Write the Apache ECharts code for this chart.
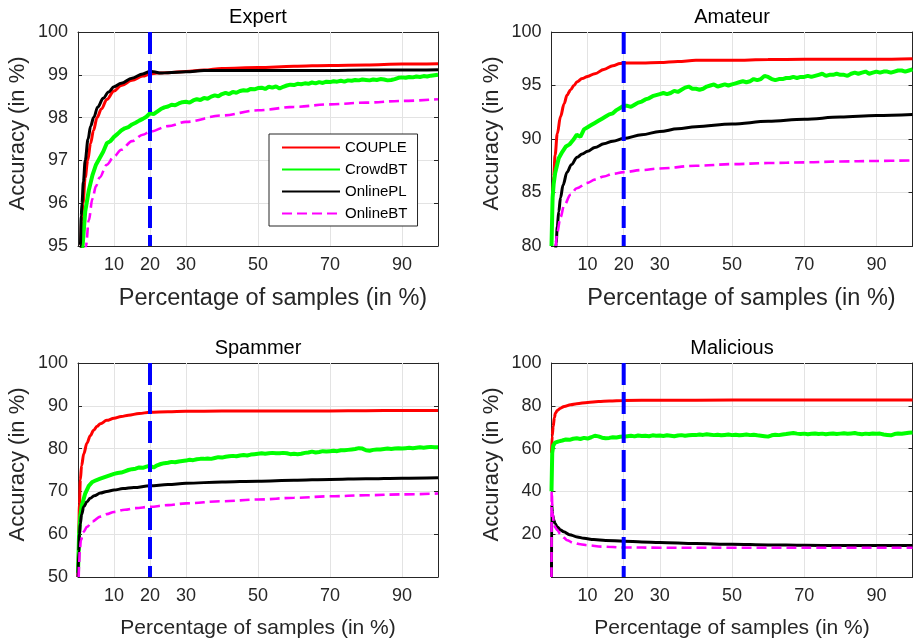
<!DOCTYPE html>
<html>
<head>
<meta charset="utf-8">
<script src="https://cdn.jsdelivr.net/npm/echarts@6/dist/echarts.min.js"></script>
<style>
html,body{margin:0;padding:0;background:#fff;}
#chart{width:915px;height:644px;}
</style>
</head>
<body>
<div id="chart"></div>
<script>
// ---------- data ----------
const panelTitles = ['Expert', 'Amateur', 'Spammer', 'Malicious'];
const seriesNames = ['COUPLE', 'CrowdBT', 'OnlinePL', 'OnlineBT'];
const xTicks = [10, 20, 30, 50, 70, 90];
const yMins = [95, 80, 50, 0];
const yMaxs = [100, 100, 100, 100];
const ySteps = [1, 5, 10, 20];
const cutoffX = 20;

// x positions (in %) for the noisy CrowdBT curves
const xSteps = [1,2,3,4,5,6,7,8,9,10,11,12,13,14,15,16,17,18,19,20,
 21,22,23,24,25,26,27,28,29,30,31,32,33,34,35,36,37,38,39,40,
 41,42,43,44,45,46,47,48,49,50,51,52,53,54,55,56,57,58,59,60,
 61,62,63,64,65,66,67,68,69,70,71,72,73,74,75,76,77,78,79,80,
 81,82,83,84,85,86,87,88,89,90,91,92,93,94,95,96,97,98,99,100];

// ---- Expert ----
const expertCouple = [[0.5,94],[0.8,95],[1.0,95.6],[1.4,96.0],[2.0,96.6],[2.7,97.0],[3.5,97.4],[4.3,97.7],[5.3,98.0],[6.5,98.2],[8,98.42],[10,98.62],[12,98.75],[15,98.87],[18,98.97],[20,99.02],[22,99.04],[25,99.05],[30,99.08],[35,99.11],[40,99.15],[50,99.17],[60,99.2],[70,99.22],[80,99.23],[90,99.25],[100,99.26]];
const expertCrowdHeadX = [];
const expertCrowdHeadY = [];
const expertCrowd = [94.7,95.8,96.3,96.65,96.9,97.05,97.2,97.4,97.45,97.55,97.62,97.7,97.75,97.78,97.84,97.88,97.93,97.97,98.02,98.1,
 98.08,98.14,98.2,98.24,98.26,98.3,98.29,98.33,98.36,98.37,98.35,98.4,98.43,98.41,98.46,98.44,98.49,98.52,98.5,98.55,
 98.58,98.55,98.6,98.58,98.62,98.64,98.63,98.67,98.66,98.69,98.7,98.67,98.72,98.7,98.73,98.68,98.72,98.75,98.77,98.76,
 98.79,98.78,98.8,98.79,98.82,98.8,98.83,98.81,98.84,98.83,98.85,98.84,98.86,98.84,98.87,98.86,98.88,98.87,98.89,98.88,
 98.87,98.89,98.88,98.9,98.89,98.87,98.88,98.9,98.93,98.94,98.93,98.95,98.94,98.96,98.95,98.97,98.96,98.98,98.99,99.0];
const expertOnlinePL = [[0.4,94],[0.65,95],[0.9,95.7],[1.1,96.0],[1.5,96.5],[2.0,97.0],[2.8,97.5],[3.5,97.8],[4.35,98.0],[5.5,98.25],[7,98.45],[8.5,98.6],[10,98.72],[12,98.8],[15,98.92],[18,99.02],[20,99.08],[21,99.07],[23,99.04],[25,99.05],[30,99.07],[35,99.1],[40,99.1],[50,99.1],[60,99.1],[70,99.1],[80,99.11],[90,99.11],[100,99.12]];
const expertOnlineBT = [[1.8,94.5],[2.2,95],[3,95.6],[4,96.1],[5,96.4],[6,96.6],[8,96.9],[10,97.09],[12,97.25],[15,97.45],[18,97.6],[20,97.67],[25,97.8],[30,97.9],[40,98.05],[50,98.17],[60,98.25],[70,98.31],[80,98.35],[90,98.39],[100,98.43]];

// ---- Amateur ----
const amateurCouple = [[0.3,84.8],[0.4,85.2],[0.6,86.5],[1,88.5],[1.6,90.5],[2.5,92.1],[3.5,93.3],[4.3,94.1],[5.3,94.6],[6.2,95.0],[7.1,95.35],[8.5,95.65],[10,95.85],[12,96.1],[14.5,96.5],[17,96.85],[19,97.05],[20,97.1],[25,97.1],[30,97.15],[35,97.25],[40,97.35],[50,97.35],[60,97.42],[70,97.45],[80,97.45],[90,97.45],[100,97.5]];
const amateurCrowdHeadX = [0, 0.3, 0.6];
const amateurCrowdHeadY = [80, 84.5, 85.8];
const amateurCrowd = [86.8,88.2,88.8,89.3,89.5,89.9,90.4,90.2,90.9,91.1,91.3,91.5,91.7,91.9,92.1,92.3,92.4,92.7,92.9,93.1,
 93.1,93.0,93.2,93.4,93.5,93.7,93.8,94.0,94.1,94.2,94.3,94.2,94.3,94.5,94.4,94.6,94.8,94.9,94.7,94.7,
 94.6,94.7,94.9,95.0,95.1,94.9,95.0,95.1,95.0,95.1,95.2,95.3,95.4,95.3,95.4,95.6,95.5,95.6,95.9,95.8,
 95.6,95.5,95.6,95.6,95.7,95.7,95.8,95.7,95.8,95.8,95.9,95.8,95.9,96.0,96.1,95.9,96.0,96.0,96.1,96.0,
 96.0,95.9,96.1,96.2,96.1,96.2,96.3,96.1,96.2,96.3,96.2,96.3,96.3,96.2,96.3,96.4,96.4,96.3,96.4,96.5];
const amateurOnlinePL = [[1.1,79.5],[1.3,80.3],[1.6,81.8],[2,83.2],[2.5,84.5],[3.2,85.7],[4.3,86.9],[5.5,87.6],[7.1,88.3],[8.5,88.6],[10,88.85],[12,89.2],[14.5,89.55],[17,89.8],[20,90.05],[25,90.4],[30,90.7],[35,90.95],[40,91.15],[50,91.4],[60,91.65],[70,91.85],[80,92.05],[90,92.2],[100,92.3]];
const amateurOnlineBT = [[1.2,80],[1.6,81.3],[2.5,82.7],[3.5,83.8],[5.3,84.8],[7,85.4],[10,85.9],[12,86.2],[14.5,86.5],[17,86.75],[20,86.9],[25,87.1],[30,87.25],[40,87.5],[50,87.65],[60,87.75],[70,87.82],[80,87.9],[90,87.95],[100,88.0]];

// ---- Spammer ----
const spammerCouple = [[0,50],[0.2,60],[0.4,67],[0.65,72.7],[1,76],[1.6,78.8],[2.5,81.3],[3.4,83.0],[4.35,84.3],[5.3,85.2],[6.2,85.8],[8,86.6],[10,87.1],[12,87.5],[14,87.8],[17,88.2],[20,88.5],[25,88.6],[30,88.7],[40,88.8],[50,88.8],[60,88.8],[70,88.8],[80,88.85],[90,88.9],[100,88.9]];
const spammerCrowdHeadX = [0, 0.3, 0.6];
const spammerCrowdHeadY = [51, 60, 64];
const spammerCrowd = [66.5,69.5,71.3,72.2,72.6,72.9,73.2,73.5,73.8,74.1,74.3,74.4,74.7,75.0,75.2,75.3,75.6,75.5,75.8,76.0,
 75.6,76.1,76.4,76.6,76.7,76.9,76.8,77.0,77.1,77.2,77.4,77.3,77.5,77.6,77.6,77.7,77.6,77.8,78.0,77.9,
 78.1,78.2,78.3,78.2,78.4,78.5,78.4,78.6,78.7,78.8,78.9,78.8,78.9,79.0,78.9,78.9,79.0,78.9,78.7,78.8,
 78.7,78.8,79.0,79.1,79.3,79.1,79.2,79.4,79.3,79.4,79.5,79.4,79.6,79.6,79.7,79.8,79.9,80.1,80.0,79.6,
 79.5,79.7,79.8,79.8,79.9,80.0,79.9,80.0,80.1,80.0,80.1,80.2,80.1,80.2,80.3,80.2,80.3,80.4,80.3,80.3];
const spammerOnlinePL = [[0,50],[0.2,56],[0.4,60],[0.65,62.5],[1,64.6],[1.6,66.4],[2.5,67.6],[3.4,68.4],[4.5,69.0],[6.2,69.6],[8,70.0],[10,70.3],[12.5,70.65],[15.5,70.9],[20,71.3],[25,71.6],[30,71.9],[40,72.2],[50,72.4],[60,72.6],[70,72.8],[80,72.95],[90,73.1],[100,73.2]];
const spammerOnlineBT = [[0.2,50],[0.3,53],[0.5,56],[0.8,58.6],[1.5,60.5],[2.5,61.7],[4,63.0],[6.2,64.1],[8,64.7],[10,65.2],[13,65.7],[16,66.1],[20,66.4],[25,66.8],[30,67.2],[40,67.7],[50,68.1],[60,68.5],[70,68.85],[80,69.1],[90,69.3],[100,69.5]];

// ---- Malicious ----
const maliciousCouple = [[0,58],[0.2,66],[0.46,70.3],[0.8,74.5],[1.1,76.6],[1.6,77.8],[2.5,78.9],[3.5,79.7],[5.3,80.5],[7,81.0],[10,81.6],[13,82.0],[16,82.3],[20,82.5],[30,82.6],[50,82.7],[70,82.7],[100,82.7]];
const maliciousCrowdHeadX = [0, 0.2, 0.5];
const maliciousCrowdHeadY = [40, 58, 61.5];
const maliciousCrowd = [62.8,63.4,63.8,64.3,64.1,64.6,64.8,64.5,65.0,64.7,65.3,66.0,65.7,65.1,64.8,65.0,65.3,65.2,65.5,65.6,
 65.8,66.0,65.7,66.1,65.9,66.0,65.8,66.2,66.0,66.1,65.9,66.2,66.0,65.8,66.1,66.3,66.0,66.2,66.4,66.3,
 66.6,66.4,66.7,66.5,66.3,66.5,66.2,66.4,66.6,66.3,66.5,66.2,66.4,66.6,66.3,66.5,66.2,66.0,65.8,65.6,
 66.2,66.5,66.3,66.6,66.8,67.1,67.3,67.0,66.8,67.0,66.7,66.9,67.1,66.8,67.0,66.7,66.9,67.1,66.8,67.0,
 67.2,66.9,67.1,67.3,66.9,66.7,67.0,66.8,67.1,66.9,67.0,66.6,66.4,66.2,66.8,67.1,66.9,67.2,67.4,67.5];
const maliciousOnlinePL = [[0,0],[0.05,34],[0.3,29],[0.65,26.6],[1,25],[1.6,23.4],[2.5,22.0],[3.4,21.1],[5,19.8],[7.1,18.75],[9,18.1],[11.7,17.5],[15,17.1],[20,16.7],[25,16.4],[30,16.1],[40,15.6],[50,15.3],[60,15.0],[70,14.8],[80,14.75],[90,14.7],[100,14.7]];
const maliciousOnlineBT = [[0,0],[0.05,40],[0.3,30],[0.65,25],[1,23.2],[1.6,21.9],[2.5,20.0],[3.4,18.4],[4.3,17.2],[6,16.0],[8,15.3],[10,14.8],[14,14.2],[20,13.8],[30,13.7],[50,13.7],[70,13.7],[100,13.7]];

// ---------- build ----------
const FONT = 'Liberation Sans, Arial, Helvetica, sans-serif';
const AX = '#262626';
const GRIDC = '#e3e3e3';
const colors = ['#ff0000', '#00ff00', '#000000', '#ff00ff'];

const panelData = [
  {couple: expertCouple, crowdHX: expertCrowdHeadX, crowdHY: expertCrowdHeadY, crowd: expertCrowd, pl: expertOnlinePL, bt: expertOnlineBT},
  {couple: amateurCouple, crowdHX: amateurCrowdHeadX, crowdHY: amateurCrowdHeadY, crowd: amateurCrowd, pl: amateurOnlinePL, bt: amateurOnlineBT},
  {couple: spammerCouple, crowdHX: spammerCrowdHeadX, crowdHY: spammerCrowdHeadY, crowd: spammerCrowd, pl: spammerOnlinePL, bt: spammerOnlineBT},
  {couple: maliciousCouple, crowdHX: maliciousCrowdHeadX, crowdHY: maliciousCrowdHeadY, crowd: maliciousCrowd, pl: maliciousOnlinePL, bt: maliciousOnlineBT}
];

const gridBoxes = [
  {left: 78, top: 32, width: 360, height: 214},
  {left: 551.5, top: 32, width: 361, height: 214},
  {left: 78, top: 363, width: 360, height: 214},
  {left: 551.5, top: 363, width: 361, height: 214}
];
const xNameFont = [23.5, 23.5, 21, 21];
const xNamePad = [[0,0,0,30],[0,0,0,19],[0,0,0,0],[0,0,0,0]];

const grids = [], xAxes = [], yAxes = [], titles = [], series = [];

gridBoxes.forEach((g, i) => {
  grids.push(Object.assign({show: false, containLabel: false}, g));
  titles.push({
    text: panelTitles[i], left: g.left + g.width / 2, top: g.top - 25, textAlign: 'center', padding: 0,
    textStyle: {fontSize: 20, fontWeight: 'normal', color: '#000', fontFamily: FONT}
  });
});

// bottom x axes (0-3)
gridBoxes.forEach((g, i) => {
  xAxes.push({
    gridIndex: i, type: 'value', min: 0, max: 100, position: 'bottom',
    name: 'Percentage of samples (in %)', nameLocation: 'middle', nameGap: 41,
    nameTextStyle: {fontSize: xNameFont[i], color: AX, fontFamily: FONT, padding: xNamePad[i]},
    axisLine: {show: true, onZero: false, lineStyle: {color: AX, width: 1}},
    axisTick: {show: true, inside: true, length: 4, customValues: xTicks, lineStyle: {color: AX}},
    axisLabel: {show: true, customValues: xTicks, fontSize: 18, color: AX, fontFamily: FONT, margin: 10},
    splitLine: {show: false}
  });
});
// top mirror x axes (4-7)
gridBoxes.forEach((g, i) => {
  xAxes.push({
    gridIndex: i, type: 'value', min: 0, max: 100, position: 'top',
    axisLine: {show: true, onZero: false, lineStyle: {color: AX, width: 1}},
    axisTick: {show: true, inside: true, length: 4, customValues: xTicks, lineStyle: {color: AX}},
    axisLabel: {show: false}, splitLine: {show: false}
  });
});
// left y axes (0-3)
gridBoxes.forEach((g, i) => {
  yAxes.push({
    gridIndex: i, type: 'value', min: yMins[i], max: yMaxs[i], interval: ySteps[i], position: 'left',
    name: 'Accuracy (in %)', nameLocation: 'middle', nameGap: 49,
    nameTextStyle: {fontSize: 22, color: AX, fontFamily: FONT, padding: [0,0,0,11]},
    axisLine: {show: true, onZero: false, lineStyle: {color: AX, width: 1}},
    axisTick: {show: true, inside: true, length: 4, lineStyle: {color: AX}},
    axisLabel: {fontSize: 18, color: AX, fontFamily: FONT, margin: 10,
      formatter: v => (i === 3 && v === 0) ? '' : String(v)},
    splitLine: {show: true, showMinLine: false, showMaxLine: false, lineStyle: {color: GRIDC, width: 1}}
  });
});
// right mirror y axes (4-7)
gridBoxes.forEach((g, i) => {
  yAxes.push({
    gridIndex: i, type: 'value', min: yMins[i], max: yMaxs[i], interval: ySteps[i], position: 'right',
    axisLine: {show: true, onZero: false, lineStyle: {color: AX, width: 1}},
    axisTick: {show: true, inside: true, length: 4, lineStyle: {color: AX}},
    axisLabel: {show: false}, splitLine: {show: false}
  });
});

function lineSeries(name, data, gi, color, width, dash, z) {
  return {
    type: 'line', name: name, data: data, xAxisIndex: gi, yAxisIndex: gi,
    symbol: 'none', showSymbol: false, clip: true, z: z,
    smooth: dash === 'noisy' ? false : 0.35, smoothMonotone: 'x',
    lineStyle: {color: color, width: width, type: (dash && dash !== 'noisy') ? dash : 'solid'},
    itemStyle: {color: color},
    emphasis: {disabled: true}
  };
}

panelData.forEach((p, gi) => {
  // vertical grid lines at the x tick positions
  series.push({
    type: 'line', name: 'xgrid', data: [], xAxisIndex: gi, yAxisIndex: gi, silent: true,
    markLine: {
      z: 1, silent: true, symbol: 'none', label: {show: false},
      lineStyle: {color: GRIDC, width: 1, type: 'solid'},
      emphasis: {disabled: true},
      data: xTicks.map(t => ({xAxis: t}))
    }
  });
  const crowdData = p.crowdHX.map((x, k) => [x, p.crowdHY[k]])
    .concat(xSteps.map((x, k) => [x, p.crowd[k]]));
  series.push(lineSeries(seriesNames[0], p.couple, gi, colors[0], 3, null, 2));
  series.push(lineSeries(seriesNames[1], crowdData, gi, colors[1], 4, 'noisy', 2));
  series.push(lineSeries(seriesNames[2], p.pl, gi, colors[2], 3, null, 2));
  series.push(lineSeries(seriesNames[3], p.bt, gi, colors[3], 2.6, [10, 5], 2));
  // cut-off line at 20 %
  series.push({
    type: 'line', name: 'cutoff', data: [[cutoffX, yMaxs[gi]], [cutoffX, yMins[gi]]],
    xAxisIndex: gi, yAxisIndex: gi, symbol: 'none', silent: true, z: 3,
    lineStyle: {color: '#0000ff', width: 4, type: [22, 7]}
  });
});

const chart = echarts.init(document.getElementById('chart'), null, {renderer: 'canvas'});
chart.setOption({
  animation: false,
  backgroundColor: '#ffffff',
  textStyle: {fontFamily: FONT},
  title: titles,
  grid: grids,
  xAxis: xAxes,
  yAxis: yAxes,
  legend: {
    data: seriesNames, orient: 'vertical', left: 269, top: 134,
    itemWidth: 58, itemHeight: 14, itemGap: 7, padding: [6, 10, 5, 12],
    borderColor: AX, borderWidth: 1, backgroundColor: '#ffffff', borderRadius: 0,
    selectedMode: false,
    itemStyle: {opacity: 0},
    textStyle: {fontSize: 15, color: '#000', fontFamily: FONT}
  },
  series: series
});
</script>
</body>
</html>
